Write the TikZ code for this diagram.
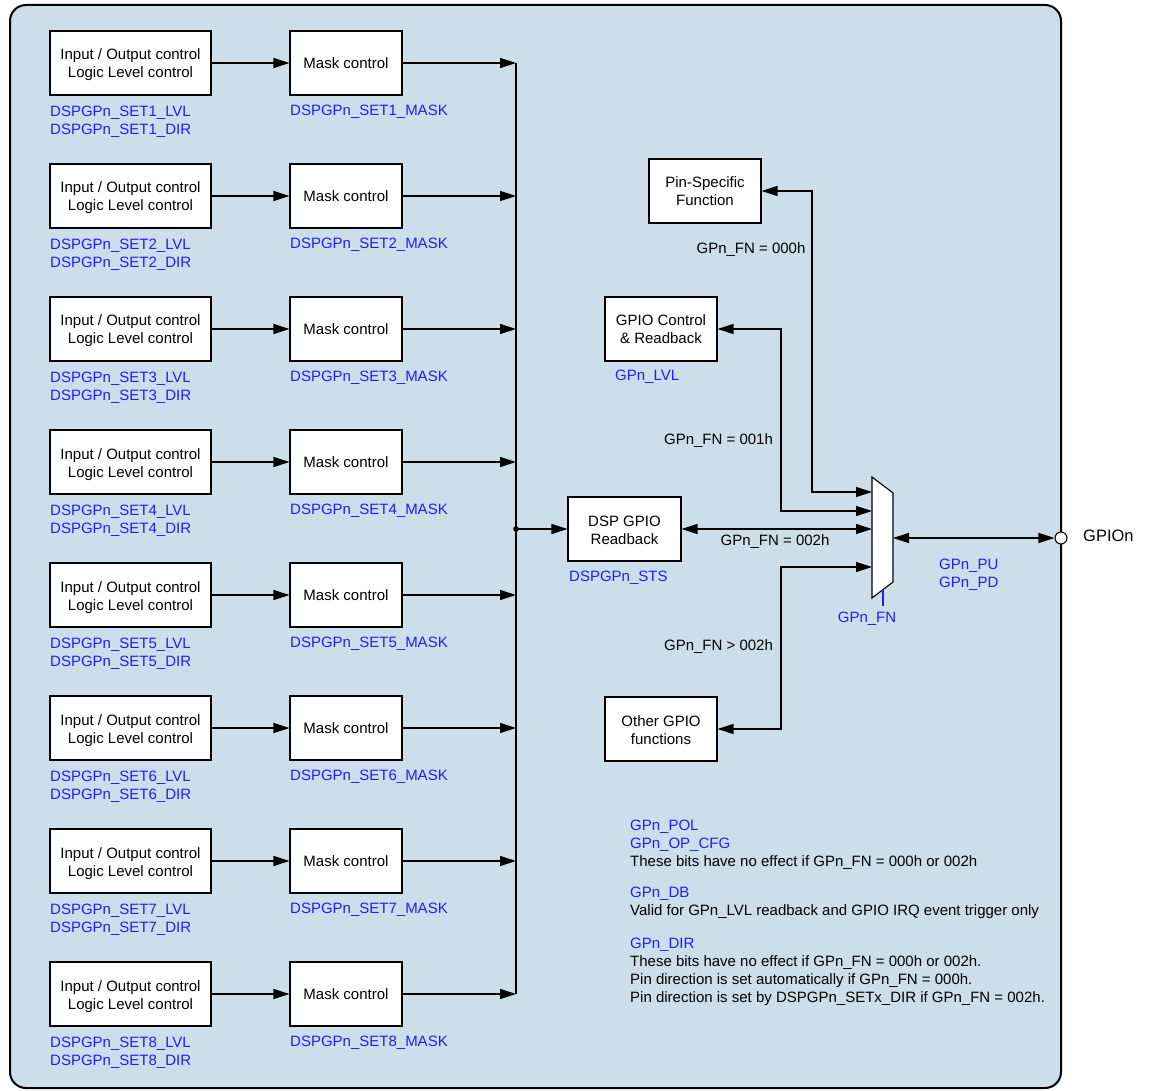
\documentclass[tikz,border=0pt]{standalone}
\usepackage{fontspec}
\setmainfont{Liberation Sans}
\usetikzlibrary{arrows.meta}
\definecolor{bgblue}{HTML}{CCDEE9}
\definecolor{regblue}{HTML}{1E1EFF}
\newcommand\sx{\rule[-3.5pt]{0pt}{17.7pt}}
\newcommand\sxa{\rule[-3.5pt]{0pt}{19pt}}
\begin{document}
\begin{tikzpicture}[x=1pt,y=-1pt,
  txt/.style={font=\fontsize{15}{18}\selectfont, inner sep=0pt, align=center, execute at begin node=\sx},
  box/.style={txt, draw, fill=white, line width=1.1pt},
  lbl/.style={font=\fontsize{15}{18}\selectfont, inner sep=0pt, align=left, text=regblue, execute at begin node=\sx},
  note/.style={font=\fontsize{15}{18}\selectfont, inner sep=0pt, align=left, execute at begin node=\sx},
  wire/.style={line width=1.3pt},
  arr/.style={wire, -{Triangle[length=16pt,width=10pt]}},
  barr/.style={wire, {Triangle[length=16pt,width=10pt]}-{Triangle[length=16pt,width=10pt]}}
]
\useasboundingbox (0,0) rectangle (1157,1091);
\draw[line width=2pt, fill=bgblue, rounded corners=16pt] (10,5) rectangle (1061,1088);

\foreach \i in {1,...,8}{
  \pgfmathsetmacro\yy{63+(\i-1)*133}
  \node[box, minimum width=161pt, minimum height=64pt] (io\i) at (130.5,\yy) {\sxa Input / Output control\\\sx Logic Level control};
  \node[box, minimum width=112pt, minimum height=64pt] (mask\i) at (346,\yy) {Mask control};
  \node[lbl, anchor=west] (lvl\i) at (50,\yy+56.5) {\sxa DSPGPn\_SET\i\_LVL\\\sx DSPGPn\_SET\i\_DIR};
  \node[lbl, anchor=west] (mk\i) at (290,\yy+47.5) {DSPGPn\_SET\i\_MASK};
  \coordinate (b\i) at (516,\yy);
  \draw[arr] (io\i) -- (mask\i);
  \draw[arr] (mask\i) -- (b\i);
}
\draw[wire] (b1) -- (b8);
\coordinate (j) at (516,529);
\fill (j) circle (2.8);

% right side boxes
\node[box, minimum width=113pt, minimum height=64pt] (dsp) at (624.5,529) {\sxa DSP GPIO\\\sx Readback};
\node[lbl, anchor=west] (sts) at (569,576.5) {DSPGPn\_STS};
\draw[arr] (j) -- (dsp);

\node[box, minimum width=112pt, minimum height=64pt] (pin) at (705,191) {\sxa Pin-Specific\\\sx Function};
\node[box, minimum width=112pt, minimum height=64pt] (gctl) at (661,329) {\sxa GPIO Control\\\sx\& Readback};
\node[lbl, anchor=west] (lvlb) at (615,375.5) {GPn\_LVL};
\node[box, minimum width=112pt, minimum height=64pt] (oth) at (661,729) {\sxa Other GPIO\\\sx functions};

% mux
\coordinate (m1) at (872,477);
\coordinate (m2) at (893,493);
\coordinate (m3) at (893,582);
\coordinate (m4) at (872,598);
\draw[line width=1.1pt, fill=white] (m1) -- (m2) -- (m3) -- (m4) -- cycle;
\coordinate (i1) at (872,492);
\coordinate (i2) at (872,511);
\coordinate (i3) at (872,529);
\coordinate (i4) at (872,567);
\coordinate (o) at (893,538);

\coordinate (p1) at (812,191);
\coordinate (p2) at (812,492);
\draw[barr] (pin.east) -- (p1) -- (p2) -- (i1);
\coordinate (g1) at (781,329);
\coordinate (g2) at (781,511);
\draw[barr] (gctl.east) -- (g1) -- (g2) -- (i2);
\draw[barr] (dsp.east) -- (i3);
\coordinate (q1) at (781,729);
\coordinate (q2) at (781,567);
\draw[barr] (oth.east) -- (q1) -- (q2) -- (i4);

\node[txt] (f0) at (751,248.3) {GPn\_FN = 000h};
\node[txt] (f1) at (718.5,439) {GPn\_FN = 001h};
\node[txt] (f2) at (775,540.3) {GPn\_FN = 002h};
\node[txt] (f3) at (718.5,645.5) {GPn\_FN > 002h};

% select
\coordinate (s1) at (883,589.6);
\coordinate (s2) at (883,606);
\draw[regblue, line width=1.1pt] (s1) -- (s2);
\node[lbl] (fn) at (867,617.5) {GPn\_FN};

% output
\node[circle, draw, fill=white, line width=1.1pt, minimum size=12pt, inner sep=0pt] (gpio) at (1061,538) {};
\draw[barr] (o) -- (gpio.west);
\node[anchor=west, inner sep=0pt, font=\fontsize{16.5}{20}\selectfont] (gpiot) at (1083,537.5) {\rule[-3.8pt]{0pt}{15.6pt}GPIOn};
\node[lbl, anchor=west] (pupd) at (939,572.5) {\sxa GPn\_PU\\\sx GPn\_PD};

% notes
\node[note, anchor=west] (n1) at (630,842.7) {\sxa{\color{regblue}GPn\_POL}\\\sx{\color{regblue}GPn\_OP\_CFG}\\\sx These bits have no effect if GPn\_FN = 000h or 002h};
\node[note, anchor=west] (n2) at (630,900.8) {\sxa{\color{regblue}GPn\_DB}\\\sx Valid for GPn\_LVL readback and GPIO IRQ event trigger only};
\node[note, anchor=west] (n3) at (630,969.8) {\sxa{\color{regblue}GPn\_DIR}\\\sx These bits have no effect if GPn\_FN = 000h or 002h.\\\sx Pin direction is set automatically if GPn\_FN = 000h.\\\sx Pin direction is set by DSPGPn\_SETx\_DIR if GPn\_FN = 002h.};
\end{tikzpicture}
\end{document}
